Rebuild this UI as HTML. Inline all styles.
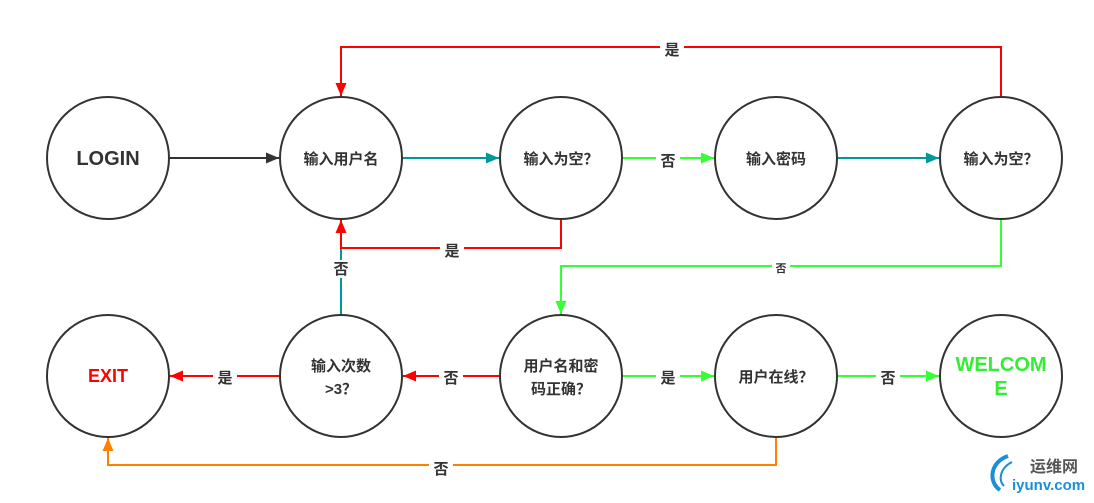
<!DOCTYPE html>
<html><head><meta charset="utf-8"><style>
html,body{margin:0;padding:0;background:#fff;}
svg text{font-family:"Liberation Sans","Noto Sans CJK SC",sans-serif;font-weight:bold;}
</style></head><body>
<svg width="1094" height="498" viewBox="0 0 1094 498" xmlns="http://www.w3.org/2000/svg">
<defs>
<marker id="ak" markerWidth="13" markerHeight="11" refX="13" refY="5.5" orient="auto" markerUnits="userSpaceOnUse"><path d="M0,0 L13,5.5 L0,11 Z" fill="#333"/></marker>
<marker id="at" markerWidth="13" markerHeight="11" refX="13" refY="5.5" orient="auto" markerUnits="userSpaceOnUse"><path d="M0,0 L13,5.5 L0,11 Z" fill="#009999"/></marker>
<marker id="ag" markerWidth="13" markerHeight="11" refX="13" refY="5.5" orient="auto" markerUnits="userSpaceOnUse"><path d="M0,0 L13,5.5 L0,11 Z" fill="#33ff33"/></marker>
<marker id="ar" markerWidth="13" markerHeight="11" refX="13" refY="5.5" orient="auto" markerUnits="userSpaceOnUse"><path d="M0,0 L13,5.5 L0,11 Z" fill="#ff0000"/></marker>
<marker id="ao" markerWidth="13" markerHeight="11" refX="13" refY="5.5" orient="auto" markerUnits="userSpaceOnUse"><path d="M0,0 L13,5.5 L0,11 Z" fill="#ff8000"/></marker>
</defs>
<g fill="none" stroke-width="2">
<line x1="169" y1="158" x2="279" y2="158" stroke="#333" marker-end="url(#ak)"/>
<line x1="402" y1="158" x2="499" y2="158" stroke="#009999" marker-end="url(#at)"/>
<line x1="622" y1="158" x2="714" y2="158" stroke="#33ff33" marker-end="url(#ag)"/>
<line x1="837" y1="158" x2="939" y2="158" stroke="#009999" marker-end="url(#at)"/>
<polyline points="1001,97 1001,47 341,47 341,96" stroke="#ff0000" marker-end="url(#ar)"/>
<polyline points="341,315 341,249" stroke="#009999"/>
<polyline points="561,219 561,248 341,248 341,220" stroke="#ff0000" marker-end="url(#ar)"/>
<polyline points="1001,219 1001,266 561,266 561,314" stroke="#33ff33" marker-end="url(#ag)"/>
<line x1="500" y1="376" x2="403" y2="376" stroke="#ff0000" marker-end="url(#ar)"/>
<line x1="280" y1="376" x2="170" y2="376" stroke="#ff0000" marker-end="url(#ar)"/>
<line x1="622" y1="376" x2="714" y2="376" stroke="#33ff33" marker-end="url(#ag)"/>
<line x1="837" y1="376" x2="939" y2="376" stroke="#33ff33" marker-end="url(#ag)"/>
<polyline points="776,437 776,465 108,465 108,438" stroke="#ff8000" marker-end="url(#ao)"/>
</g>
<g fill="#fff" stroke="#333" stroke-width="2">
<circle cx="108" cy="158" r="61"/><circle cx="341" cy="158" r="61"/><circle cx="561" cy="158" r="61"/><circle cx="776" cy="158" r="61"/><circle cx="1001" cy="158" r="61"/>
<circle cx="108" cy="376" r="61"/><circle cx="341" cy="376" r="61"/><circle cx="561" cy="376" r="61"/><circle cx="776" cy="376" r="61"/><circle cx="1001" cy="376" r="61"/>
</g>
<g text-anchor="middle" fill="#333" font-size="15">
<text x="108" y="165" font-size="20">LOGIN</text>
<text x="341" y="164">输入用户名</text>
<text x="561" y="164">输入为空？</text>
<text x="776" y="164">输入密码</text>
<text x="1001" y="164">输入为空？</text>
<text x="108" y="382" font-size="18" fill="#ff0000">EXIT</text>
<text x="341" y="371">输入次数</text>
<text x="341" y="394">&gt;3？</text>
<text x="561" y="371">用户名和密</text>
<text x="561" y="394">码正确？</text>
<text x="776" y="382">用户在线？</text>
<text x="1001" y="371" font-size="20" fill="#33ee33">WELCOM</text>
<text x="1001" y="395" font-size="20" fill="#33ee33">E</text>
</g>
<g text-anchor="middle" fill="#333" font-size="15">
<rect x="660" y="40" width="24" height="18" fill="#fff"/><text x="672" y="55">是</text>
<rect x="440" y="241" width="24" height="18" fill="#fff"/><text x="452" y="256">是</text>
<rect x="329" y="260" width="24" height="18" fill="#fff"/><text x="341" y="274">否</text>
<rect x="656" y="151" width="24" height="18" fill="#fff"/><text x="668" y="166">否</text>
<rect x="772" y="260" width="18" height="14" fill="#fff"/><text x="781" y="272" font-size="11" font-weight="normal">否</text>
<rect x="439" y="368" width="24" height="18" fill="#fff"/><text x="451" y="383">否</text>
<rect x="213" y="368" width="24" height="18" fill="#fff"/><text x="225" y="383">是</text>
<rect x="656" y="368" width="24" height="18" fill="#fff"/><text x="668" y="383">是</text>
<rect x="876" y="368" width="24" height="18" fill="#fff"/><text x="888" y="383">否</text>
<rect x="429" y="458" width="24" height="18" fill="#fff"/><text x="441" y="474">否</text>
</g>
<g>
<path d="M1008,456 C990,462 988,482 1000,490" stroke="#1a8fd8" stroke-width="4" fill="none"/>
<path d="M1012,462 C1000,468 998,480 1004,486" stroke="#1a8fd8" stroke-width="2" fill="none"/>
<text x="1030" y="472" font-size="16" font-weight="normal" fill="#555">运维网</text>
<text x="1012" y="490" font-size="15" fill="#1a8fd8">iyunv.com</text>
</g>
</svg>
</body></html>
